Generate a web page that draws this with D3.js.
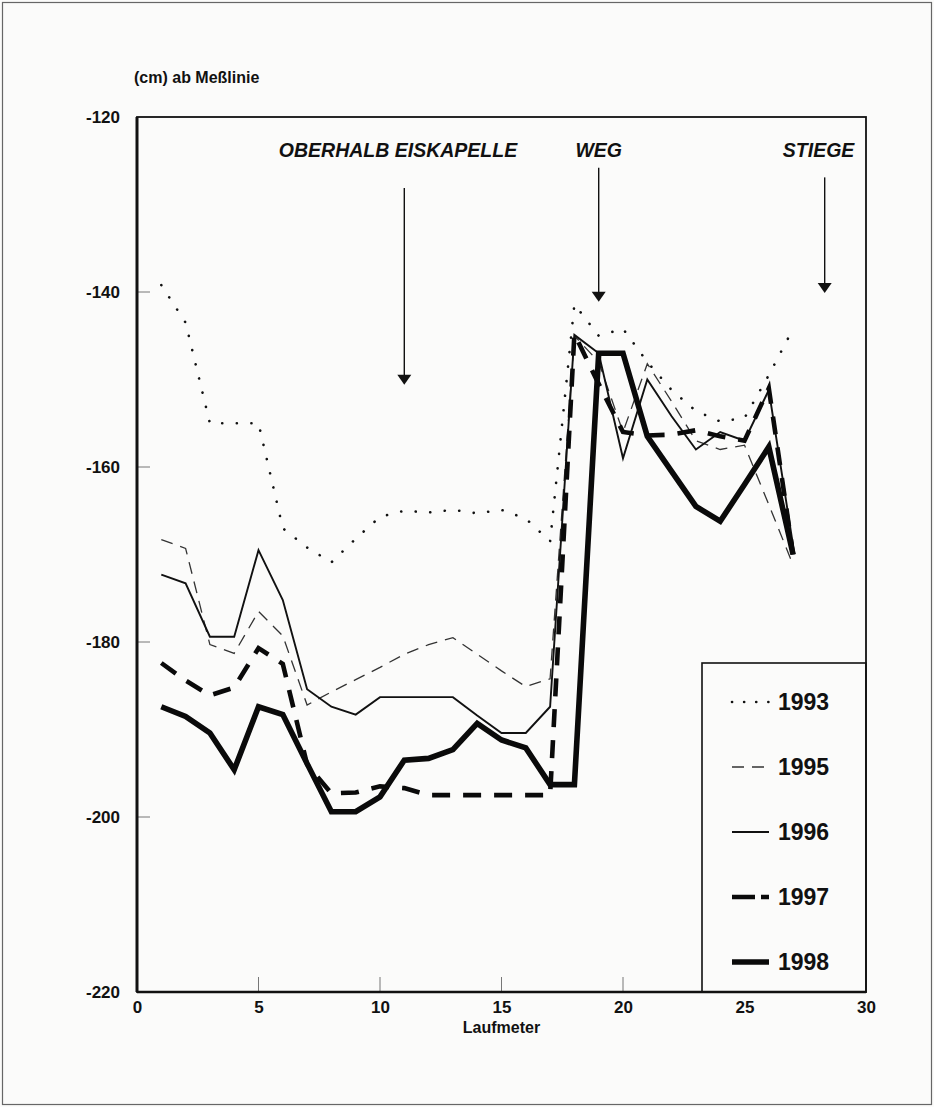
<!DOCTYPE html>
<html>
<head>
<meta charset="utf-8">
<script src="https://cdn.jsdelivr.net/npm/d3@7"></script>
<style>
  body { margin: 0; background: #fbfbfa; }
  svg { display: block; }
  text { font-family: "Liberation Sans", Arial, Helvetica, sans-serif; font-weight: bold; fill: #111; }
</style>
</head>
<body>
<div id="chart"></div>
<script>
// Laufmeter positions (x) and depth values (cm ab Meßlinie) per year
var laufmeter = [1,2,3,4,5,6,7,8,9,10,11,12,13,14,15,16,17,18,19,20,21,22,23,24,25,26,27];
var y1993 = [-139.2,-143.5,-155,-155,-155,-167,-169.2,-170.9,-168.2,-165.7,-165,-165.2,-164.9,-165.3,-164.9,-165.9,-168.5,-141.4,-145,-144.2,-148,-151.2,-153.6,-154.8,-154.4,-149.5,-144.2];
var y1995 = [-168.3,-169.3,-180.3,-181.3,-176.5,-179.3,-187.2,-185.7,-184.3,-182.9,-181.4,-180.3,-179.5,-181.4,-183.3,-185.1,-184.2,-145,-148,-156,-148.2,-152.5,-157,-158,-157.5,-164.3,-171.2];
var y1996 = [-172.3,-173.3,-179.4,-179.4,-169.5,-175.2,-185.4,-187.4,-188.3,-186.3,-186.3,-186.3,-186.3,-188.4,-190.4,-190.4,-187.4,-144.9,-147,-159,-150,-154.2,-158,-156,-157,-151.2,-169];
var y1997 = [-182.4,-184.4,-186.1,-185.2,-180.7,-182.5,-194,-197.3,-197.2,-196.5,-196.7,-197.5,-197.5,-197.5,-197.5,-197.5,-197.5,-144.8,-150.5,-156,-156.4,-156.3,-155.8,-156.5,-157,-151,-170];
var y1998 = [-187.4,-188.5,-190.4,-194.6,-187.4,-188.3,-193.9,-199.4,-199.4,-197.7,-193.5,-193.3,-192.3,-189.3,-191.2,-192.1,-196.3,-196.3,-147,-147,-156.5,-160.5,-164.5,-166.2,-162,-157.7,-170];

var years = ["1993","1995","1996","1997","1998"];
var xTicks = [0,5,10,15,20,25,30];
var yTicks = [-120,-140,-160,-180,-200,-220];

// location markers above the profile
var annoLabels = ["OBERHALB EISKAPELLE","WEG","STIEGE"];
var annoX = [11,19,28.3];
var annoTextX = [10.74,19,28.05];
var annoTop = [-128.1,-125.8,-126.9];
var annoTip = [-150.6,-141.1,-140.1];

var series = [y1993,y1995,y1996,y1997,y1998];

// one style per year, same order as years
var styles = [
  {w: 2.6, dash: "0.1,14.5", cap: "round", col: "#111"},
  {w: 1.3, dash: "12,8", cap: "butt", col: "#333"},
  {w: 1.9, dash: null, cap: "butt", col: "#111"},
  {w: 4.6, dash: "18,13", cap: "butt", col: "#0a0a0a"},
  {w: 5.6, dash: null, cap: "butt", col: "#0a0a0a"}
];

var W = 934, H = 1107;
var margin = {top: 117, right: 68, bottom: 115, left: 137},
    width = W - margin.left - margin.right,
    height = H - margin.top - margin.bottom;

var svg0 = d3.select("#chart").append("svg")
    .attr("width", W)
    .attr("height", H);

// thin outer frame of the scanned figure
svg0.append("rect")
    .attr("x", 2.5).attr("y", 2.5)
    .attr("width", W - 5).attr("height", H - 5)
    .attr("fill", "none").attr("stroke", "#666").attr("stroke-width", 1.2);

var svg = svg0.append("g")
    .attr("transform", "translate(" + margin.left + "," + margin.top + ")");

var x = d3.scaleLinear().domain([0, 30]).range([0, width]);
var y = d3.scaleLinear().domain([-220, -120]).range([height, 0]);

// y axis: labels outside, short ticks inside the frame
var yAxis = svg.append("g")
    .call(d3.axisLeft(y).tickValues(yTicks).tickSize(0).tickPadding(17)
      .tickFormat(function(d){ return String(d); }));
yAxis.select(".domain").remove();
yAxis.selectAll("text")
    .style("font-family", "'Liberation Sans', Arial, sans-serif")
    .style("font-weight", "bold")
    .style("font-size", "17px")
    .attr("fill", "#111");

svg.selectAll(".ytick").data(yTicks.filter(function(d){ return d > -220 && d < -120; }))
  .enter().append("line")
    .attr("class", "ytick")
    .attr("x1", 0).attr("x2", 13)
    .attr("y1", function(d){ return y(d); })
    .attr("y2", function(d){ return y(d); })
    .attr("stroke", "#777").attr("stroke-width", 1);

// x axis
var xAxis = svg.append("g")
    .attr("transform", "translate(0," + height + ")")
    .call(d3.axisBottom(x).tickValues(xTicks).tickSize(0).tickPadding(9));
xAxis.select(".domain").remove();
xAxis.selectAll("text")
    .style("font-family", "'Liberation Sans', Arial, sans-serif")
    .style("font-weight", "bold")
    .style("font-size", "17px")
    .attr("fill", "#111");

svg.selectAll(".xtick").data(xTicks.filter(function(d){ return d > 0 && d < 30; }))
  .enter().append("line")
    .attr("class", "xtick")
    .attr("x1", function(d){ return x(d); })
    .attr("x2", function(d){ return x(d); })
    .attr("y1", height).attr("y2", height - 15)
    .attr("stroke", "#777").attr("stroke-width", 1);

svg.append("text")
    .attr("x", x(15)).attr("y", height + 41)
    .attr("text-anchor", "middle")
    .style("font-size", "16px")
    .text("Laufmeter");

svg.append("text")
    .attr("x", -3).attr("y", -34)
    .style("font-size", "16px")
    .text("(cm) ab Meßlinie");

// the lines
var line = d3.line()
    .x(function(d, i){ return x(laufmeter[i]); })
    .y(function(d){ return y(d); });

series.forEach(function(s, k){
  var st = styles[k];
  svg.append("path")
      .datum(s)
      .attr("fill", "none")
      .attr("stroke", st.col)
      .attr("stroke-width", st.w)
      .attr("stroke-linecap", st.cap)
      .attr("stroke-linejoin", "miter")
      .attr("stroke-dasharray", st.dash)
      .attr("d", line);
});

// arrows + labels
annoLabels.forEach(function(lab, i){
  var ax = x(annoX[i]), top = y(annoTop[i]), tip = y(annoTip[i]);
  svg.append("line")
      .attr("x1", ax).attr("x2", ax)
      .attr("y1", top).attr("y2", tip - 8)
      .attr("stroke", "#111").attr("stroke-width", 1.4);
  svg.append("path")
      .attr("d", "M" + (ax - 7) + "," + (tip - 10) + "L" + (ax + 7) + "," + (tip - 10) + "L" + ax + "," + tip + "Z")
      .attr("fill", "#111");
  svg.append("text")
      .attr("x", x(annoTextX[i])).attr("y", 40)
      .attr("text-anchor", "middle")
      .style("font-style", "italic")
      .style("font-size", "19.5px")
      .text(lab);
});

// legend box, lower right
var legend = svg.append("g")
    .attr("transform", "translate(" + (width - 164) + "," + (height - 329) + ")");
legend.append("rect")
    .attr("width", 164).attr("height", 329)
    .attr("fill", "#fbfbfa").attr("stroke", "#111").attr("stroke-width", 1.6);

years.forEach(function(yr, k){
  var st = styles[k];
  var ly = 39 + k * 65;
  legend.append("line")
      .attr("x1", 30).attr("x2", 67)
      .attr("y1", ly).attr("y2", ly)
      .attr("stroke", st.col)
      .attr("stroke-width", st.w)
      .attr("stroke-linecap", st.cap)
      .attr("stroke-dasharray", k == 3 ? "23,6" : (k == 0 ? "0.1,12" : st.dash));
  legend.append("text")
      .attr("x", 76).attr("y", ly + 8)
      .style("font-size", "23px")
      .text(yr);
});

// frame around the plot, heavier on left and bottom
svg.append("rect")
    .attr("width", width).attr("height", height)
    .attr("fill", "none").attr("stroke", "#111").attr("stroke-width", 1.8);
svg.append("line")
    .attr("x1", 0).attr("x2", 0).attr("y1", 0).attr("y2", height)
    .attr("stroke", "#111").attr("stroke-width", 3);
svg.append("line")
    .attr("x1", 0).attr("x2", width).attr("y1", height).attr("y2", height)
    .attr("stroke", "#111").attr("stroke-width", 2.6);
</script>
</body>
</html>
